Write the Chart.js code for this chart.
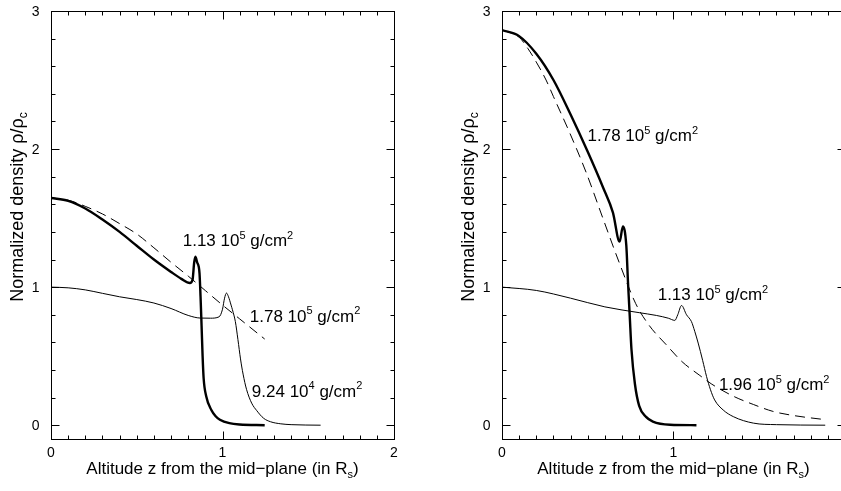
<!DOCTYPE html>
<html>
<head>
<meta charset="utf-8">
<script src="https://cdn.jsdelivr.net/npm/chart.js@4.4.1/dist/chart.umd.min.js"></script>
<style>
  html, body { margin: 0; padding: 0; background: #fff; overflow: hidden; width: 841px; height: 491px; }
  #left { position: absolute; left: 0; top: 0; }
  #right { position: absolute; left: 420px; top: 0; }
</style>
</head>
<body>
<canvas id="left" width="420" height="491"></canvas>
<canvas id="right" width="421" height="491"></canvas>
<script>
// Data: altitude z (in R_s) and normalized density rho/rho_c

// left panel
const leftThickZ   = [0, 0.1, 0.2, 0.3, 0.4, 0.5, 0.6, 0.7, 0.76, 0.81, 0.825, 0.835, 0.842, 0.852, 0.866, 0.872, 0.878, 0.884, 0.89, 0.905, 0.935, 0.96, 0.985, 1.04, 1.1, 1.246];
const leftThickRho = [1.646, 1.625, 1.57, 1.49, 1.40, 1.30, 1.20, 1.11, 1.06, 1.03, 1.05, 1.18, 1.22, 1.18, 1.10, 0.93, 0.72, 0.50, 0.34, 0.21, 0.11, 0.065, 0.04, 0.015, 0.005, 0];

const leftDashZ   = [0, 0.1, 0.2, 0.3, 0.4, 0.5, 0.6, 0.7, 0.8, 0.9, 1.0, 1.1, 1.246];
const leftDashRho = [1.646, 1.63, 1.585, 1.53, 1.46, 1.385, 1.285, 1.18, 1.08, 0.975, 0.87, 0.77, 0.624];

const leftThinZ   = [0, 0.1, 0.2, 0.3, 0.4, 0.5, 0.6, 0.7, 0.8, 0.87, 0.93, 0.98, 1.0, 1.012, 1.023, 1.035, 1.05, 1.058, 1.075, 1.09, 1.105, 1.12, 1.14, 1.17, 1.2, 1.24, 1.28, 1.34, 1.4, 1.572];
const leftThinRho = [1.0, 0.995, 0.98, 0.955, 0.93, 0.91, 0.885, 0.845, 0.795, 0.776, 0.775, 0.785, 0.84, 0.92, 0.957, 0.93, 0.87, 0.836, 0.75, 0.62, 0.48, 0.37, 0.26, 0.16, 0.105, 0.05, 0.025, 0.01, 0.004, 0];

// right panel
const rightThickZ   = [0, 0.1, 0.2, 0.3, 0.4, 0.5, 0.59, 0.647, 0.686, 0.705, 0.725, 0.735, 0.745, 0.755, 0.775, 0.8, 0.84, 0.88, 0.98, 1.134];
const rightThickRho = [2.862, 2.818, 2.69, 2.50, 2.25, 1.98, 1.72, 1.54, 1.33, 1.44, 1.30, 1.03, 0.79, 0.55, 0.30, 0.14, 0.06, 0.026, 0.003, 0];

const rightDashZ   = [0, 0.1, 0.15, 0.2, 0.257, 0.3, 0.394, 0.491, 0.588, 0.686, 0.78, 0.86, 0.96, 1.05, 1.154, 1.22, 1.349, 1.466, 1.58, 1.7, 1.885];
const rightDashRho = [2.862, 2.81, 2.73, 2.63, 2.50, 2.38, 2.12, 1.83, 1.50, 1.17, 0.88, 0.72, 0.58, 0.46, 0.36, 0.30, 0.21, 0.15, 0.10, 0.07, 0.04];

const rightThinZ   = [0, 0.2, 0.4, 0.6, 0.8, 0.9, 0.97, 1.008, 1.025, 1.047, 1.076, 1.105, 1.124, 1.144, 1.17, 1.193, 1.215, 1.24, 1.29, 1.349, 1.466, 1.6, 1.885];
const rightThinRho = [1.0, 0.976, 0.92, 0.857, 0.815, 0.795, 0.775, 0.759, 0.80, 0.867, 0.80, 0.75, 0.68, 0.595, 0.47, 0.352, 0.26, 0.183, 0.11, 0.062, 0.015, 0.004, 0];

// curve labels: mantissa, exponent, and anchor (z, rho) of the baseline start
const leftLabelText  = ['1.13 10', '1.78 10', '9.24 10'];
const leftLabelExp   = ['5', '5', '4'];
const leftLabelZ     = [0.768, 1.159, 1.171];
const leftLabelRho   = [1.295, 0.751, 0.207];

const rightLabelText = ['1.78 10', '1.13 10', '1.96 10'];
const rightLabelExp  = ['5', '5', '5'];
const rightLabelZ    = [0.499, 0.908, 1.265];
const rightLabelRho  = [2.057, 0.909, 0.256];

const xTickLabels = ['0', '1', '2'];
const yTickLabels = ['0', '1', '2', '3'];

const FONT = "'Liberation Sans', Arial, Helvetica, sans-serif";

function pts(zs, rhos) {
    return zs.map((z, i) => ({ x: z, y: rhos[i] }));
}

// draws a list of [text, 'sup'|'sub'|''] pieces starting at (x, y)
function drawRich(ctx, pieces, x, y, size) {
    let cx = x;
    pieces.forEach(([t, kind]) => {
        const s = kind ? Math.round(size * 0.65) : size;
        const dy = kind === 'sup' ? -size * 0.42 : kind === 'sub' ? size * 0.25 : 0;
        ctx.font = `${s}px ${FONT}`;
        ctx.fillText(t, cx, y + dy);
        cx += ctx.measureText(t).width;
    });
    return cx - x;
}

function richWidth(ctx, pieces, size) {
    let w = 0;
    pieces.forEach(([t, kind]) => {
        const s = kind ? Math.round(size * 0.65) : size;
        ctx.font = `${s}px ${FONT}`;
        w += ctx.measureText(t).width;
    });
    return w;
}

const framePlugin = {
    id: 'frame',
    afterDraw(chart, args, opts) {
        const { ctx, chartArea: a } = chart;
        const xs = chart.scales.x, ys = chart.scales.y;
        // frame spans z = 0..2 even where the canvas cuts it off
        const left = Math.round(xs.getPixelForValue(0)) + 0.5;
        const right = Math.round(xs.getPixelForValue(2)) + 0.5;
        const top = a.top + 0.5, bottom = a.bottom + 0.5;
        ctx.save();
        ctx.strokeStyle = '#000';
        ctx.fillStyle = '#000';
        ctx.lineWidth = 1;
        ctx.strokeRect(left, top, right - left, bottom - top);

        // inward ticks
        ctx.beginPath();
        for (let i = 0; i <= 20; i++) {
            const px = Math.round(xs.getPixelForValue(i / 10)) + 0.5;
            const len = i % 10 === 0 ? 8 : 4;
            ctx.moveTo(px, bottom); ctx.lineTo(px, bottom - len);
            ctx.moveTo(px, top); ctx.lineTo(px, top + len);
        }
        for (let i = 0; i <= 15; i++) {
            const py = Math.round(ys.getPixelForValue(i / 5)) + 0.5;
            const len = i % 5 === 0 ? 8 : 4;
            ctx.moveTo(left, py); ctx.lineTo(left + len, py);
            ctx.moveTo(right, py); ctx.lineTo(right - len, py);
        }
        ctx.stroke();

        // tick labels
        ctx.font = `14px ${FONT}`;
        ctx.textAlign = 'center';
        ctx.textBaseline = 'alphabetic';
        xTickLabels.forEach(t => {
            ctx.fillText(t, xs.getPixelForValue(+t), bottom + 17.5);
        });
        ctx.textAlign = 'right';
        yTickLabels.forEach(t => {
            ctx.fillText(t, left - 12, ys.getPixelForValue(+t) + 5);
        });

        // axis titles
        ctx.textAlign = 'left';
        const xt = [['Altitude z from the mid\u2212plane (in R', ''], ['s', 'sub'], [')', '']];
        const xw = richWidth(ctx, xt, 17);
        drawRich(ctx, xt, xs.getPixelForValue(1) - xw / 2, bottom + 34.5, 17);

        const yt = [['Normalized density \u03c1/\u03c1', ''], ['c', 'sub']];
        const yw = richWidth(ctx, yt, 18);
        ctx.save();
        ctx.translate(left - 29, ys.getPixelForValue(1.58));
        ctx.rotate(-Math.PI / 2);
        drawRich(ctx, yt, -yw / 2, 0, 18);
        ctx.restore();

        // curve labels
        opts.text.forEach((t, i) => {
            drawRich(ctx, [[t, ''], [opts.exp[i], 'sup'], [' g/cm', ''], ['2', 'sup']],
                xs.getPixelForValue(opts.z[i]), ys.getPixelForValue(opts.rho[i]), 17);
        });
        ctx.restore();
    }
};

function makeChart(id, thick, dash, thin, labels, pad, zMax) {
    const line = (data, width, dashPattern) => ({
        data,
        showLine: true,
        borderColor: '#000',
        borderWidth: width,
        borderDash: dashPattern,
        pointRadius: 0,
        fill: false,
        cubicInterpolationMode: 'monotone'
    });
    return new Chart(document.getElementById(id), {
        type: 'scatter',
        data: {
            datasets: [
                line(thick, 2.4, []),
                line(dash, 1, [10, 6]),
                line(thin, 1, [])
            ]
        },
        options: {
            responsive: false,
            animation: false,
            layout: { padding: pad },
            plugins: {
                legend: { display: false },
                tooltip: { enabled: false },
                frame: labels
            },
            scales: {
                x: { type: 'linear', min: 0, max: zMax, display: false },
                y: { type: 'linear', min: -0.1, max: 3, display: false }
            }
        },
        plugins: [framePlugin]
    });
}

makeChart('left',
    pts(leftThickZ, leftThickRho), pts(leftDashZ, leftDashRho), pts(leftThinZ, leftThinRho),
    { text: leftLabelText, exp: leftLabelExp, z: leftLabelZ, rho: leftLabelRho },
    { left: 51, right: 26, top: 11, bottom: 52 }, 2);

// the right panel is cut by the window edge just before z = 2
makeChart('right',
    pts(rightThickZ, rightThickRho), pts(rightDashZ, rightDashRho), pts(rightThinZ, rightThinRho),
    { text: rightLabelText, exp: rightLabelExp, z: rightLabelZ, rho: rightLabelRho },
    { left: 82, right: 0, top: 11, bottom: 52 }, 1.977);
</script>
</body>
</html>
